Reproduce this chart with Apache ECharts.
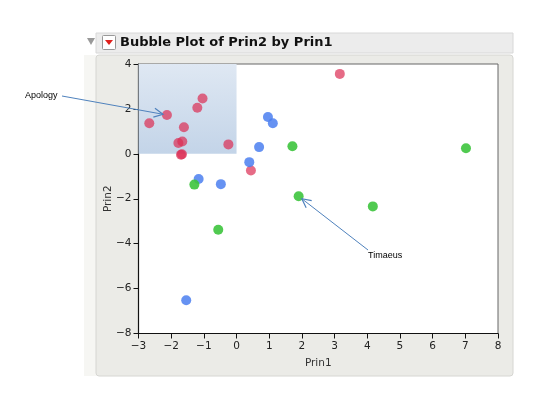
<!DOCTYPE html>
<html><head><meta charset="utf-8">
<script src="https://cdn.jsdelivr.net/npm/echarts@6/dist/echarts.min.js"></script>
<style>html,body{margin:0;padding:0;background:#fff;}#c{width:547px;height:412px;}</style>
</head><body><div id="c"></div>
<script>
var xTicks = [-3, -2, -1, 0, 1, 2, 3, 4, 5, 6, 7, 8];
var yTicks = [-8, -6, -4, -2, 0, 2, 4];
var redPts = [[-2.67,1.36],[-2.13,1.73],[-1.61,1.18],[-1.20,2.05],[-1.04,2.46],[-1.78,0.48],[-1.66,0.55],[-0.25,0.42],[-1.70,-0.04],[-1.67,-0.02],[0.44,-0.74],[3.16,3.56]];
var bluePts = [[0.96,1.64],[1.11,1.36],[0.69,0.30],[0.39,-0.37],[-1.16,-1.12],[-0.48,-1.35],[-1.54,-6.52]];
var greenPts = [[-1.29,-1.37],[1.71,0.34],[1.90,-1.89],[-0.56,-3.38],[4.17,-2.34],[7.02,0.25]];
var shadeBox = [[-3,0],[0,4]];
var annotations = [
  {text:'Apology', target:[-2.13,1.73], labelPx:[25,96], tailPx:[62,96], gap:4},
  {text:'Timaeus', target:[1.90,-1.89], labelPx:[368,256], tailPx:[368,250], gap:4}
];

var chart = echarts.init(document.getElementById('c'));
var F = 'DejaVu Sans, Open Sans, sans-serif';
function fmt(v){ return String(v).replace('-', '\u2212'); }
chart.setOption({
  animation:false,
  backgroundColor:'#fff',
  grid:{left:138.5, right:49, top:64, bottom:78.5, show:true, borderColor:'#666', borderWidth:1, backgroundColor:'#fff'},
  xAxis:{type:'value', min:xTicks[0], max:xTicks[xTicks.length-1], interval:1,
    name:'Prin1', nameLocation:'middle', nameGap:24, nameTextStyle:{fontFamily:F, fontSize:10.5, color:'#333'},
    axisLine:{show:true, onZero:false, lineStyle:{color:'#111', width:1.2}},
    axisTick:{show:true, length:5, lineStyle:{color:'#111'}},
    axisLabel:{fontFamily:F, fontSize:10.5, color:'#222', margin:7, formatter:fmt},
    splitLine:{show:false}},
  yAxis:{type:'value', min:yTicks[0], max:yTicks[yTicks.length-1], interval:2,
    name:'Prin2', nameLocation:'middle', nameGap:25, nameRotate:90, nameMoveOverlap:false, nameTextStyle:{fontFamily:F, fontSize:10.5, color:'#333'},
    axisLine:{show:true, onZero:false, lineStyle:{color:'#111', width:1.2}},
    axisTick:{show:true, length:5, lineStyle:{color:'#111'}},
    axisLabel:{fontFamily:F, fontSize:10.5, color:'#222', margin:7, formatter:fmt},
    splitLine:{show:false}},
  series:[
    {type:'scatter', data:redPts, symbolSize:10, z:3, itemStyle:{color:'#dc2c52', opacity:0.7},
      markArea:{silent:true, z:1, itemStyle:{color:new echarts.graphic.LinearGradient(0,0,0,1,[{offset:0,color:'#dfe8f3'},{offset:1,color:'#c3d4e8'}])},
        data:[[{coord:shadeBox[0]},{coord:shadeBox[1]}]]}},
    {type:'scatter', data:bluePts, symbolSize:10, z:3, itemStyle:{color:'#4b7ff0', opacity:0.85}},
    {type:'scatter', data:greenPts, symbolSize:10, z:3, itemStyle:{color:'#3dc43d', opacity:0.9}}
  ]
});

var g = [
  {type:'rect', shape:{x:84,y:55,width:12,height:321}, style:{fill:'#f6f6f3'}, z:-10, silent:true},
  {type:'rect', shape:{x:96,y:55,width:417,height:321,r:3}, style:{fill:'#ebebe7', stroke:'#d6d6d2', lineWidth:1}, z:-9, silent:true},
  {type:'rect', shape:{x:96,y:33,width:417,height:20}, style:{fill:'#ececec', stroke:'#d8d8d8', lineWidth:1}, z:-9, silent:true},
  {type:'polygon', shape:{points:[[87,38],[95,38],[91,45]]}, style:{fill:'#999'}, z:5, silent:true},
  {type:'rect', shape:{x:102.5,y:35.5,width:13,height:14,r:1}, style:{fill:'#fff', stroke:'#999', lineWidth:1}, z:5, silent:true},
  {type:'polygon', shape:{points:[[105,40],[113,40],[109,45]]}, style:{fill:'#e0201c'}, z:6, silent:true},
  {type:'text', x:120, y:43, style:{text:'Bubble Plot of Prin2 by Prin1', font:'bold 13px '+F, fill:'#111', textVerticalAlign:'middle'}, z:5, silent:true}
];
annotations.forEach(function(a){
  var p = chart.convertToPixel({gridIndex:0}, a.target);
  var dx = p[0]-a.tailPx[0], dy = p[1]-a.tailPx[1];
  var L = Math.sqrt(dx*dx+dy*dy), ux = dx/L, uy = dy/L;
  var hx = p[0]-ux*a.gap, hy = p[1]-uy*a.gap;
  var hl = 9, hw = 4.5;
  var bx = hx-ux*hl, by = hy-uy*hl;
  g.push({type:'line', shape:{x1:a.tailPx[0],y1:a.tailPx[1],x2:hx,y2:hy}, style:{stroke:'#4f82bd', lineWidth:1}, z:10, silent:true});
  g.push({type:'polyline', shape:{points:[[bx-uy*hw,by+ux*hw],[hx,hy],[bx+uy*hw,by-ux*hw]]}, style:{stroke:'#4f82bd', lineWidth:1.2, fill:null}, z:10, silent:true});
  g.push({type:'text', x:a.labelPx[0], y:a.labelPx[1], style:{text:a.text, font:'9px Liberation Sans, Arial, sans-serif', fill:'#000', textVerticalAlign:'middle'}, z:10, silent:true});
});
chart.setOption({graphic:g});
</script></body></html>
